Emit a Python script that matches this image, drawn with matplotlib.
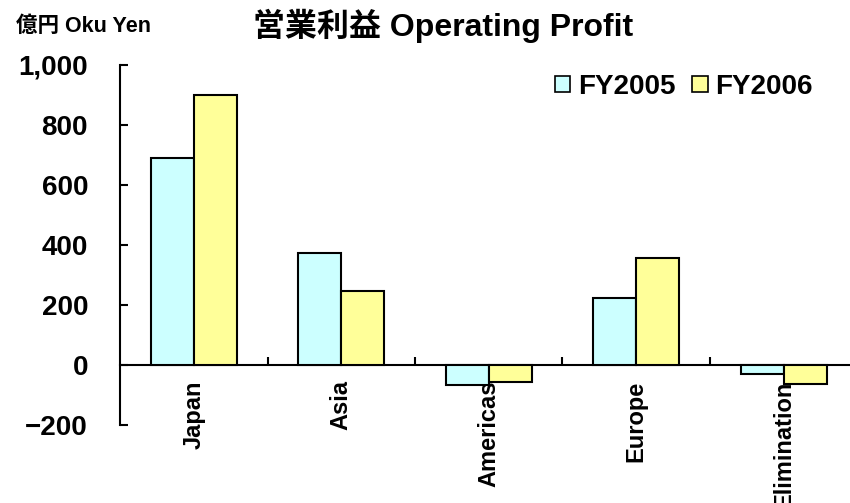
import numpy as np
import matplotlib
matplotlib.use("Agg")
import matplotlib.pyplot as plt
from matplotlib.patches import Patch

# data (unit: 億円 / Oku Yen)
regions = ["Japan", "Asia", "Americas", "Europe", "Elimination"]
fy2005 = [690, 372, -68, 222, -31]
fy2006 = [900, 247, -57, 355, -62]
series_names = ["FY2005", "FY2006"]
series_colors = ["#CCFFFF", "#FFFF99"]
yticks = [-200, 0, 200, 400, 600, 800, 1000]

plt.rcParams["font.family"] = ["Liberation Sans", "Noto Sans CJK JP"]
plt.rcParams["font.weight"] = "bold"

fig = plt.figure(figsize=(8.5, 5.03), dpi=100)
ax = fig.add_axes([0.1412, 0.1551, 0.8676, 0.7157])

x = np.arange(len(regions))
w = 0.29
ax.bar(x - w / 2, fy2005, w, color=series_colors[0], edgecolor="black", linewidth=1.5, zorder=3)
ax.bar(x + w / 2, fy2006, w, color=series_colors[1], edgecolor="black", linewidth=1.5, zorder=3)

ax.set_xlim(-0.5, len(regions) - 0.5)
ax.set_ylim(-200, 1000)

# left spine plus the zero line only
for side in ["top", "right"]:
    ax.spines[side].set_visible(False)
ax.spines["left"].set_linewidth(1.5)
ax.spines["bottom"].set_position(("data", 0))
ax.spines["bottom"].set_linewidth(1.5)

ax.set_yticks(yticks)
ax.set_yticklabels([f"{v:,}".replace("-", "\u2212") for v in yticks], fontsize=20, fontweight="bold")
ax.tick_params(axis="y", direction="in", length=6, width=1.5, pad=23)

ax.set_xticks(x)
ax.set_xticklabels(regions, rotation=90, fontsize=17, fontweight="bold", va="top")
ax.set_xticks(x[:-1] + 0.5, minor=True)
ax.tick_params(axis="x", which="major", length=0, pad=11)
ax.tick_params(axis="x", which="minor", direction="in", length=6, width=1.5)

handles = [Patch(facecolor=c, edgecolor="black", linewidth=1.2) for c in series_colors]
ax.legend(handles, series_names, loc="center left", bbox_to_anchor=(0.5898, 0.939),
          ncol=2, frameon=False, prop={"size": 20, "weight": "bold"},
          borderpad=0, borderaxespad=0,
          handlelength=0.55, handleheight=0.55, handletextpad=0.27, columnspacing=0.62)

fig.text(0.298, 0.948, "営業利益 Operating Profit", fontsize=23, fontweight="bold",
         va="center", ha="left")
fig.text(0.019, 0.948, "億円 Oku Yen", fontsize=15.5, fontweight="bold",
         va="center", ha="left")

fig.savefig("out.png", dpi=100)
